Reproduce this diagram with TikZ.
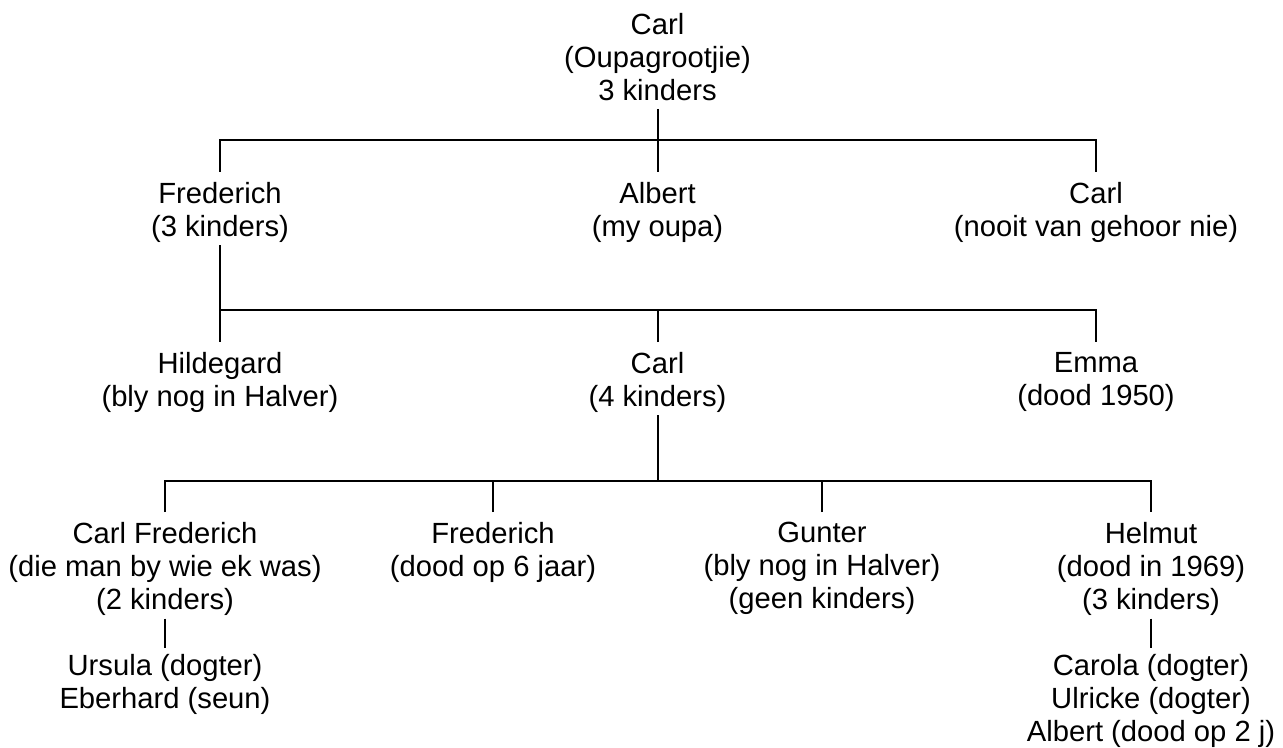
\documentclass[tikz,border=0pt]{standalone}
\usepackage{fontspec}
\setmainfont{Liberation Sans}
\usepackage{tikz}
\usetikzlibrary{positioning}

\begin{document}
\begin{tikzpicture}[x=0.5pt, y=-0.5pt, line width=1pt,
    person/.style={anchor=north, align=center, inner sep=0pt, font=\fontsize{14.6}{16.6}\selectfont}]
    \useasboundingbox (0,0) rectangle (1283,748);
    % generation 1
    \node [person] (oupa) at (657.5,12) {Carl\\(Oupagrootjie)\\3 kinders};
    % generation 2
    \node [person] (frederich) at (220,181) {Frederich\\(3 kinders)};
    \node [person] (albert) at (657.5,181) {Albert\\(my oupa)};
    \node [person] (carlb) at (1096,181) {Carl\\(nooit van gehoor nie)};
    % generation 3
    \node [person] (hildegard) at (220,351) {Hildegard\\(bly nog in Halver)};
    \node [person] (carlc) at (657.5,351) {Carl\\(4 kinders)};
    \node [person] (emma) at (1096,351) {Emma\\(dood 1950)};
    % generation 4
    \node [person] (carlfred) at (165,521) {Carl Frederich\\(die man by wie ek was)\\(2 kinders)};
    \node [person] (frederichb) at (493,521) {Frederich\\(dood op 6 jaar)};
    \node [person] (gunter) at (822,521) {Gunter\\(bly nog in Halver)\\(geen kinders)};
    \node [person] (helmut) at (1151,521) {Helmut\\(dood in 1969)\\(3 kinders)};
    % generation 5
    \node [person] (kidsa) at (165,653) {Ursula (dogter)\\Eberhard (seun)};
    \node [person] (kidsb) at (1151,653) {Carola (dogter)\\Ulricke (dogter)\\Albert (dood op 2 j)};

    \coordinate (bus1) at (657.5,140);
    \coordinate (bus2) at (657.5,310);
    \coordinate (bus3) at (657.5,481);

    \draw ([yshift=-3.5pt]oupa.south) -- (bus1);
    \draw ([yshift=4.5pt]frederich.north) |- (bus1) -| ([yshift=4.5pt]carlb.north);
    \draw ([yshift=4.5pt]albert.north) -- (bus1);

    \draw ([yshift=-1pt]frederich.south) -- ([yshift=4.5pt]hildegard.north);
    \draw (frederich.south |- bus2) -| ([yshift=4.5pt]emma.north);
    \draw ([yshift=4.5pt]carlc.north) -- (bus2);

    \draw ([yshift=-1pt]carlc.south) -- (bus3);
    \draw ([yshift=4.5pt]carlfred.north) |- (bus3) -| ([yshift=4.5pt]helmut.north);
    \draw ([yshift=4.5pt]frederichb.north) -- (frederichb.north |- bus3);
    \draw ([yshift=4.5pt]gunter.north) -- (gunter.north |- bus3);

    \draw ([yshift=-1pt]carlfred.south) -- ([yshift=2.5pt]kidsa.north);
    \draw ([yshift=-1pt]helmut.south) -- ([yshift=2.5pt]kidsb.north);
\end{tikzpicture}
\end{document}
